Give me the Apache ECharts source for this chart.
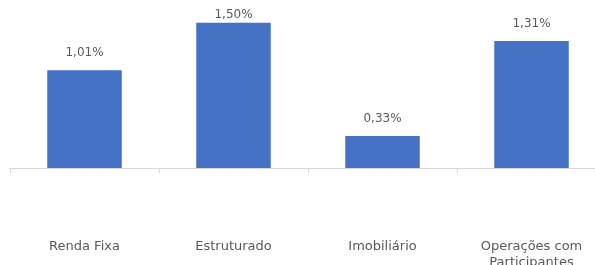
<!DOCTYPE html>
<html>
<head>
<meta charset="utf-8">
<script src="https://cdn.jsdelivr.net/npm/echarts@6/dist/echarts.min.js"></script>
<style>
  html, body { margin: 0; padding: 0; background: #fff; }
  #chart { width: 595px; height: 265px; }
</style>
</head>
<body>
<div id="chart"></div>
<script>
// categorias e rentabilidades (%)
const categorias = ['Renda Fixa', 'Estruturado', 'Imobiliário', 'Operações com\nParticipantes'];
const rentabilidade = [1.01, 1.50, 0.33, 1.31];

const fmtPct = v => v.toFixed(2).replace('.', ',') + '%';
const FONT = 'DejaVu Sans';
const GREY = '#595959';

const chart = echarts.init(document.getElementById('chart'));
chart.setOption({
    animation: false,
    grid: { left: 10, width: 596, top: 13, bottom: 97, containLabel: false, outerBoundsMode: 'none' },
    xAxis: {
        type: 'category',
        data: categorias,
        boundaryGap: true,
        axisLine: { lineStyle: { color: '#d9d9d9', width: 1 } },
        axisTick: { show: true, length: 5, lineStyle: { color: '#d9d9d9' } },
        axisLabel: {
            margin: 71,
            color: GREY,
            fontFamily: FONT,
            fontSize: 13,
            lineHeight: 16,
            interval: 0
        }
    },
    yAxis: {
        type: 'value',
        min: 0,
        max: 1.6,
        show: false,
        splitLine: { show: false }
    },
    series: [{
        type: 'bar',
        barWidth: '50%',
        itemStyle: { color: '#4472c4' },
        label: {
            show: true,
            position: 'top',
            distance: 11,
            color: GREY,
            fontFamily: FONT,
            fontSize: 12,
            formatter: p => fmtPct(p.value)
        },
        data: rentabilidade.map((v, i) => (
            i === 1 ? { value: v, label: { distance: 2 } } : v
        ))
    }]
});
</script>
</body>
</html>
